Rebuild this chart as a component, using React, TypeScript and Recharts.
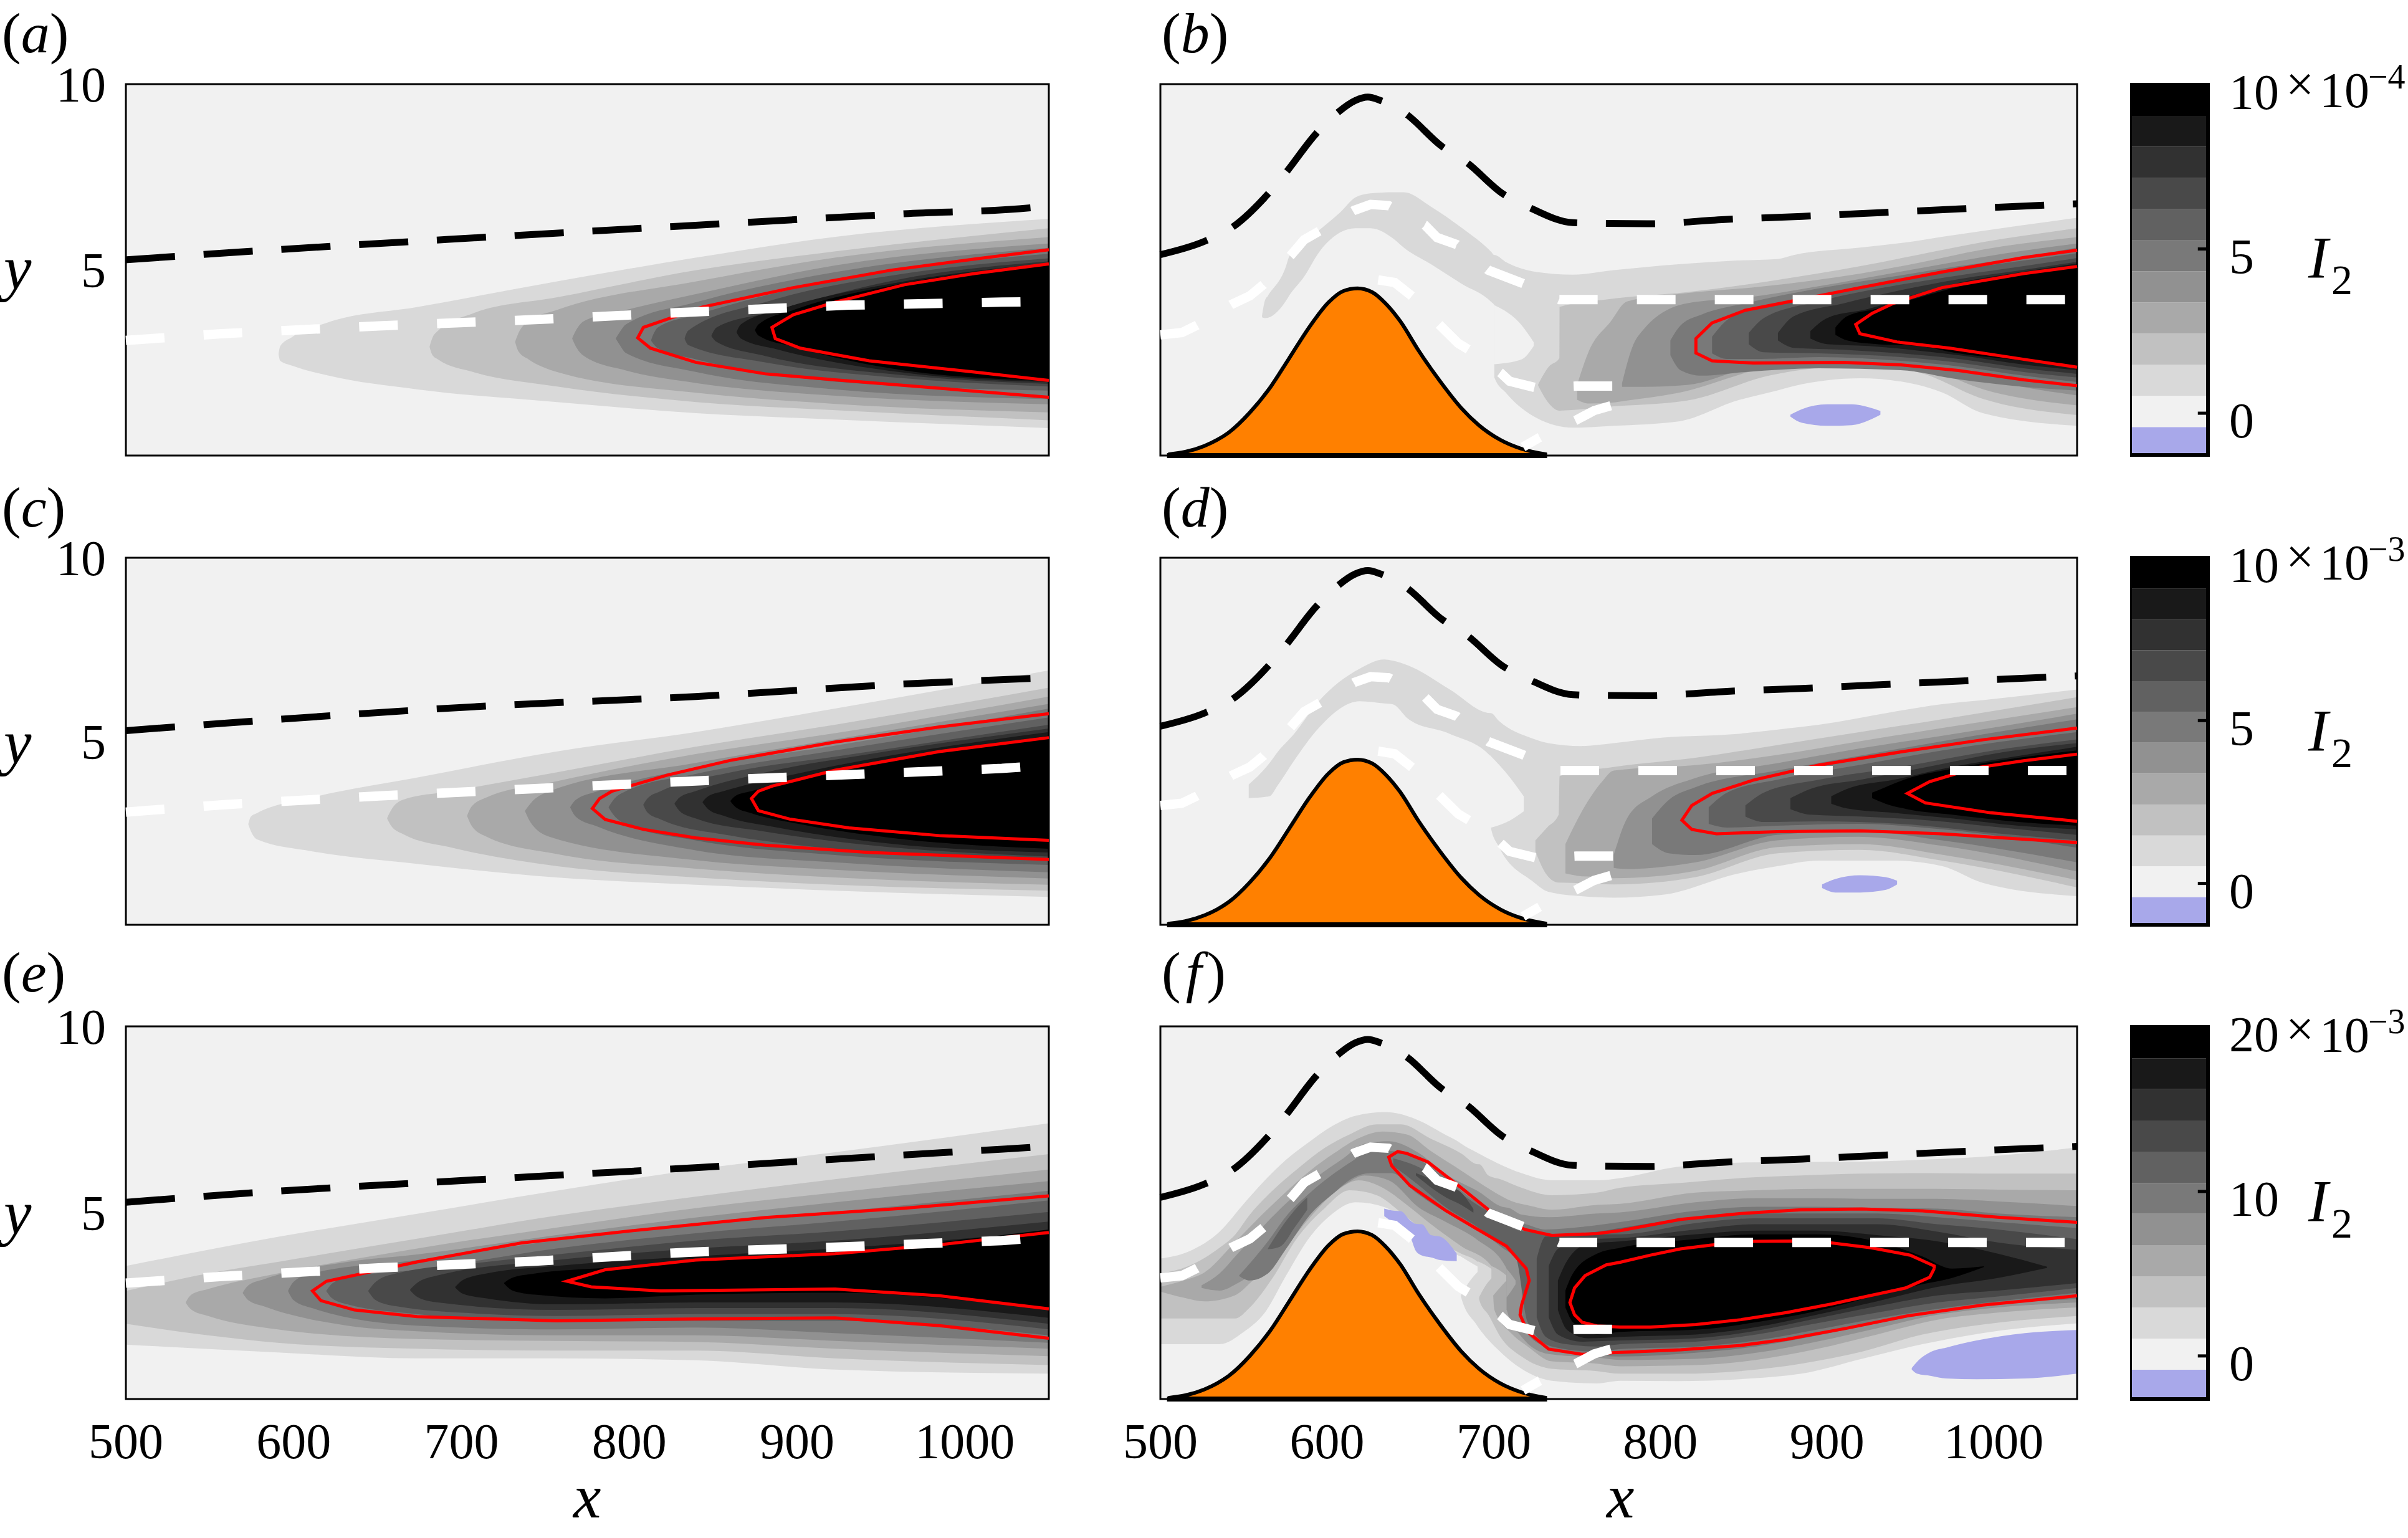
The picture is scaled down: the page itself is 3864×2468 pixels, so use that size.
import React from 'react';
import { ComposedChart, Area, Line, XAxis, YAxis, ReferenceArea, ReferenceLine } from 'recharts';

type Row = number[];
type Band = [number, Row[]];

const serif = '"Liberation Serif", "Times New Roman", serif';
const grays = ['#f1f1f1', '#d9d9d9', '#c1c1c1', '#a9a9a9', '#919191', '#797979', '#616161', '#494949', '#313131', '#191919', '#000000'];
const lavender = '#a8a8ea';
const BLUE = 11;
const xTicks = [500, 600, 700, 800, 900, 1000];
const yTicks = [5, 10];

const plotFill: Row[] = [[500, 0, 10], [1050, 0, 10]];

// wall bump, same in the three right hand panels
const bump: Row[] = [[504.7, 0.03], [515, 0.1], [526.5, 0.26], [534, 0.42], [541, 0.62], [553.7, 1.16], [566.3, 1.86], [577, 2.6], [590, 3.5], [600.8, 4.12], [609.8, 4.43], [618.3, 4.5], [627, 4.4], [635, 4.1], [644, 3.61], [655, 2.82], [667.8, 2], [680.5, 1.28], [691, 0.82], [704, 0.42], [716.7, 0.18], [731.8, 0.03]];
const bumpBase: Row[] = [[504, 0], [732, 0]];

const blackFlat: Row[] = [[500, 5.27], [561.4, 5.46], [715, 5.88], [839.5, 6.2], [964, 6.51], [1039, 6.67], [1050, 6.72]];
const blackC: Row[] = [[500, 5.29], [561.4, 5.5], [715, 5.96], [839.5, 6.22], [964, 6.56], [1039, 6.71], [1050, 6.73]];
const blackE: Row[] = [[500, 5.28], [561.4, 5.49], [715, 5.9], [839.5, 6.21], [964, 6.55], [1050, 6.78]];
const blackHump: Row[] = [[500, 5.41], [526, 5.76], [543, 6.14], [564.5, 7.04], [575, 7.6], [593.5, 8.67], [606, 9.22], [617, 9.56], [624.5, 9.65], [632, 9.56], [646.6, 9.22], [669, 8.32], [683.5, 7.9], [705.7, 7.04], [720.4, 6.7], [747.5, 6.27], [764.7, 6.25], [792, 6.24], [840, 6.36], [885, 6.44], [932, 6.54], [979, 6.64], [1050, 6.78]];

const whiteA: Row[] = [[500, 3.1], [557, 3.28], [650.7, 3.49], [744, 3.66], [835, 3.86], [931, 4.05], [1022, 4.13], [1050, 4.15]];
const whiteC: Row[] = [[500, 3.07], [557.3, 3.27], [650.7, 3.51], [744, 3.71], [835.4, 3.91], [930.9, 4.09], [1022, 4.26], [1050, 4.35]];
const whiteE: Row[] = [[500, 3.11], [557.3, 3.29], [650.7, 3.52], [744, 3.7], [835.4, 3.94], [930.9, 4.09], [1022, 4.25], [1050, 4.35]];
const whiteUpper: Row[] = [[500, 3.25], [512.9, 3.31], [522, 3.51], [542.8, 4.07], [553.7, 4.3], [561.8, 4.6], [578.1, 5.38], [586.3, 5.81], [595.3, 6.04], [616.2, 6.6], [626.1, 6.76], [637, 6.73], [658.8, 6.2], [666, 5.87], [677.8, 5.68], [696.8, 4.99], [717.6, 4.63], [739.4, 4.2], [1050, 4.2]];
const whiteLower: Row[] = [[630.7, 4.73], [640.6, 4.66], [651.5, 4.27], [667, 3.54], [678.7, 3.02], [685, 2.85], [704, 2.23], [709.5, 2], [725.8, 1.82], [749.4, 1.87], [772.4, 1.87]];
const whiteFoot: Row[] = [[770.2, 1.34], [760.2, 1.21], [749.3, 0.95], [727.6, 0.49], [717.6, 0.23]];

const redA: Row[][] = [
  [[1050, 5.54], [1005.6, 5.29], [955.8, 4.99], [897.7, 4.52], [843.7, 4], [808.4, 3.45], [805, 3.17], [812.6, 2.89], [839.5, 2.51], [881, 2.2], [922.6, 2.04], [1050, 1.57]],
  [[1050, 5.16], [1005.6, 4.9], [964, 4.6], [922.6, 4.13], [897.7, 3.79], [885, 3.45], [887, 3.15], [902, 2.89], [943, 2.55], [1005.6, 2.25], [1050, 2.02]],
];
const redB: Row[][] = [
  [[1050, 5.53], [1018, 5.33], [968.9, 4.94], [919.7, 4.52], [880.3, 4.17], [850.8, 3.91], [831, 3.57], [821.3, 3.15], [821.3, 2.76], [831, 2.55], [855.7, 2.49], [909.8, 2.51], [944.3, 2.44], [978.7, 2.29], [1018, 2.04], [1050, 1.88]],
  [[1050, 5.09], [1018, 4.9], [968.9, 4.52], [939.4, 4.09], [927.1, 3.83], [917.2, 3.53], [919.7, 3.28], [941.8, 3.06], [973.8, 2.89], [1018, 2.59], [1050, 2.38]],
];
const redC: Row[][] = [
  [[1050, 5.75], [984.8, 5.39], [922.6, 4.98], [860.3, 4.48], [822.9, 4.08], [789.7, 3.64], [782.3, 3.44], [778, 3.17], [785.6, 2.87], [808.4, 2.6], [839.5, 2.37], [881, 2.17], [943.3, 1.97], [1050, 1.78]],
  [[1050, 5.1], [984.8, 4.72], [922.6, 4.21], [885.2, 3.78], [876.9, 3.64], [872.8, 3.44], [876.9, 3.11], [895.6, 2.88], [930.9, 2.64], [984.8, 2.43], [1050, 2.3]],
];
const redD: Row[][] = [
  [[1050, 5.36], [993.5, 5.04], [944.3, 4.71], [895, 4.35], [855.7, 3.94], [831.1, 3.58], [818.8, 3.25], [812.9, 2.85], [818.8, 2.6], [833.6, 2.48], [870.5, 2.54], [919.7, 2.56], [968.9, 2.48], [1008.2, 2.36], [1050, 2.24]],
  [[1050, 4.65], [1018, 4.47], [988.6, 4.27], [961.5, 3.9], [948.2, 3.58], [959, 3.32], [998.4, 3.05], [1050, 2.82]],
];
const redE: Row[][] = [
  [[1050, 5.45], [964, 5.12], [881, 4.87], [798, 4.5], [735.8, 4.19], [673.5, 3.68], [619.5, 3.16], [611.2, 2.9], [616.2, 2.64], [636.2, 2.39], [673.5, 2.21], [756.5, 2.1], [839.5, 2.15], [922.6, 2.18], [984.8, 1.97], [1050, 1.63]],
  [[1050, 4.47], [984.8, 4.14], [922.6, 3.9], [839.5, 3.73], [785.6, 3.47], [762.8, 3.16], [777.3, 3.01], [818.8, 2.9], [922.6, 2.95], [984.8, 2.77], [1050, 2.42]],
];
const redF: Row[][] = [
  [[1050, 4.74], [1002.4, 4.88], [957.1, 5.05], [920.9, 5.1], [884.6, 5.08], [848.4, 4.98], [812.1, 4.82], [775.9, 4.52], [762, 4.44], [734.9, 4.39], [718.6, 4.55], [696.8, 5.08], [680.5, 5.67], [660.6, 6.36], [647.9, 6.59], [642.4, 6.64], [637, 6.49], [638.8, 6.26], [649.7, 5.73], [671.4, 5.05], [687.8, 4.62], [707.7, 4.1], [719.5, 3.5], [721.3, 3.18], [716.7, 2.52], [715.8, 2.26], [720.4, 1.8], [733, 1.34], [753, 1.2], [771, 1.24], [812.1, 1.32], [848.4, 1.44], [875.6, 1.6], [911.8, 1.9], [948, 2.23], [993.3, 2.52], [1050, 2.77]],
  [[964.3, 3.5], [961.6, 3.27], [947.1, 2.98], [926.3, 2.78], [902.7, 2.55], [875.6, 2.32], [848.4, 2.13], [821.2, 2], [794, 1.93], [775.9, 1.93], [762, 1.96], [753, 2.06], [748.5, 2.26], [745.7, 2.59], [748.5, 2.98], [754.8, 3.31], [767.5, 3.6], [775.9, 3.67], [794, 3.86], [812.1, 4.03], [830.3, 4.13], [855.6, 4.23], [879.2, 4.24], [902.7, 4.19], [926.3, 4.06], [949.9, 3.86], [964.3, 3.57], [964.3, 3.5]],
];

const bandsA: Band[] = [
  [1, [[591, 2.72, 2.74], [592, 2.55, 2.95], [599, 2.42, 3.19], [620, 2.16, 3.58], [674, 1.78, 4], [757, 1.44, 4.69], [840, 1.14, 5.33], [923, 0.97, 5.89], [1050, 0.74, 6.37]]],
  [2, [[681, 2.92, 2.94], [682.5, 2.72, 3.15], [686, 2.59, 3.36], [707, 2.25, 3.83], [757, 1.86, 4.26], [840, 1.44, 4.99], [923, 1.22, 5.5], [1050, 0.95, 6.12]]],
  [3, [[732, 3.05, 3.07], [734, 2.8, 3.3], [740, 2.59, 3.62], [757, 2.25, 3.92], [840, 1.69, 4.69], [923, 1.39, 5.33], [1050, 1.16, 5.88]]],
  [4, [[766, 3.14, 3.16], [768, 2.95, 3.35], [773, 2.68, 3.62], [798, 2.29, 3.92], [840, 1.95, 4.35], [923, 1.61, 5.12], [1050, 1.38, 5.71]]],
  [5, [[792, 3.14, 3.16], [794, 3, 3.3], [798, 2.76, 3.53], [840, 2.25, 4.13], [923, 1.78, 4.94], [1050, 1.52, 5.59]]],
  [6, [[813, 3.09, 3.11], [814.5, 3, 3.28], [817, 2.89, 3.45], [840, 2.59, 3.79], [923, 1.99, 4.73], [1050, 1.75, 5.43]]],
  [7, [[833, 3.14, 3.16], [835, 2.98, 3.36], [881, 2.51, 4.13], [964, 2.08, 4.9], [1050, 1.86, 5.31]]],
  [8, [[849, 3.21, 3.24], [852, 3.06, 3.45], [881, 2.68, 3.83], [964, 2.16, 4.77], [1050, 1.93, 5.23]]],
  [9, [[864, 3.31, 3.34], [866.5, 3.15, 3.53], [889, 2.85, 3.92], [964, 2.23, 4.69], [1050, 1.98, 5.18]]],
  [10, [[875, 3.36, 3.39], [877, 3.23, 3.53], [898, 2.93, 3.92], [964, 2.29, 4.64], [1050, 2.01, 5.13]]],
];

const bandsC: Band[] = [
  [1, [[573, 2.73, 2.75], [574.5, 2.55, 2.95], [578, 2.33, 3.04], [611.2, 2, 3.47], [673.5, 1.66, 4.01], [756.5, 1.29, 4.72], [839.5, 1.09, 5.25], [922.6, 0.93, 5.89], [1050, 0.76, 6.93]]],
  [2, [[655.7, 2.89, 2.91], [658, 2.7, 3.12], [665.2, 2.47, 3.41], [694.3, 2.1, 3.64], [756.5, 1.6, 4.15], [839.5, 1.29, 4.85], [922.6, 1.09, 5.45], [1050, 0.93, 6.46]]],
  [3, [[703.4, 2.96, 2.98], [706, 2.7, 3.22], [715, 2.4, 3.47], [756.5, 1.93, 3.91], [839.5, 1.53, 4.65], [922.6, 1.29, 5.22], [1050, 1.09, 6.22]]],
  [4, [[737.9, 3.09, 3.11], [741, 2.8, 3.3], [752.4, 2.4, 3.64], [839.5, 1.76, 4.41], [922.6, 1.5, 5.05], [1050, 1.26, 6.02]]],
  [5, [[764.8, 3.19, 3.21], [768, 2.95, 3.4], [781.4, 2.67, 3.64], [839.5, 2.03, 4.28], [922.6, 1.7, 4.88], [1050, 1.43, 5.89]]],
  [6, [[787.7, 3.19, 3.21], [790.5, 3, 3.4], [798, 2.74, 3.64], [839.5, 2.3, 4.11], [922.6, 1.9, 4.75], [1050, 1.63, 5.65]]],
  [7, [[808.4, 3.26, 3.28], [811, 3.05, 3.45], [818.8, 2.87, 3.64], [860.3, 2.43, 4.15], [922.6, 2.07, 4.58], [1050, 1.76, 5.45]]],
  [8, [[827, 3.29, 3.31], [830, 3.1, 3.47], [839.5, 2.9, 3.64], [881, 2.54, 4.15], [943.3, 2.17, 4.65], [1050, 1.86, 5.35]]],
  [9, [[843.7, 3.33, 3.35], [847, 3.15, 3.5], [856.2, 2.97, 3.64], [889.4, 2.64, 4.01], [943.3, 2.27, 4.51], [1050, 1.97, 5.25]]],
  [10, [[860.3, 3.36, 3.38], [863.5, 3.2, 3.52], [872.8, 3.04, 3.64], [901.8, 2.74, 4.01], [955.8, 2.37, 4.48], [1050, 2.07, 5.15]]],
];

const bandsE: Band[] = [
  [1, [[500, 1.46, 3.57], [590.5, 1.25, 4.35], [673.5, 1.09, 4.97], [756.5, 1.09, 5.59], [839.5, 1.04, 6.16], [922.6, 0.79, 6.62], [1050, 0.68, 7.4]]],
  [2, [[500, 2.02, 2.9], [549, 1.71, 3.37], [590.5, 1.51, 3.68], [673.5, 1.35, 4.3], [756.5, 1.3, 4.92], [839.5, 1.3, 5.43], [922.6, 1.09, 5.9], [1050, 0.91, 6.57]]],
  [3, [[535.7, 2.58, 2.6], [539, 2.4, 2.8], [549, 2.23, 2.95], [590.5, 1.87, 3.37], [673.5, 1.61, 4.04], [756.5, 1.56, 4.6], [839.5, 1.53, 5.12], [922.6, 1.35, 5.54], [1050, 1.15, 6.16]]],
  [4, [[569.7, 2.84, 2.86], [573, 2.65, 3.05], [582, 2.49, 3.21], [632, 1.97, 3.68], [673.5, 1.82, 3.88], [756.5, 1.71, 4.4], [839.5, 1.71, 4.87], [922.6, 1.56, 5.28], [1050, 1.35, 5.85]]],
  [5, [[596.7, 2.89, 2.91], [600, 2.65, 3.15], [611, 2.44, 3.37], [673.5, 1.97, 3.73], [756.5, 1.87, 4.25], [839.5, 1.92, 4.66], [922.6, 1.77, 5.02], [1050, 1.51, 5.59]]],
  [6, [[619.5, 2.89, 2.91], [623, 2.7, 3.1], [632, 2.54, 3.26], [673.5, 2.28, 3.47], [756.5, 2.08, 4.04], [839.5, 2.1, 4.45], [922.6, 2.1, 4.76], [1050, 1.71, 5.33]]],
  [7, [[644.5, 2.89, 2.91], [649, 2.65, 3.15], [661, 2.49, 3.37], [715, 2.28, 3.68], [756.5, 2.23, 3.88], [839.5, 2.28, 4.25], [922.6, 2.28, 4.5], [1050, 1.87, 5.02]]],
  [8, [[669.4, 2.92, 2.94], [674, 2.73, 3.13], [686, 2.59, 3.32], [756.5, 2.39, 3.73], [839.5, 2.44, 4.04], [922.6, 2.44, 4.25], [1050, 2.02, 4.76]]],
  [9, [[696.3, 2.99, 3.01], [701, 2.82, 3.2], [715, 2.7, 3.37], [756.5, 2.54, 3.57], [839.5, 2.59, 3.83], [922.6, 2.59, 4.04], [1050, 2.18, 4.5]]],
  [10, [[725.4, 3.1, 3.12], [730, 2.92, 3.25], [744, 2.8, 3.37], [785.6, 2.7, 3.52], [839.5, 2.8, 3.73], [922.6, 2.85, 3.94], [1050, 2.39, 4.55]]],
];

const bandsB: Band[] = [
  [1, [[561, 3.72, 3.77], [562.7, 3.7, 4.17], [564.5, 3.71, 4.3], [575.4, 4.17, 5.1], [577.2, 4.3, 5.35], [586.3, 4.82, 5.75], [595.3, 5.48, 6.07], [608, 6.01, 6.55], [617, 6.12, 6.95], [626, 6.12, 7.06], [640.6, 5.81, 7.09], [646, 5.6, 7.09], [662.4, 5.15, 6.7], [680.5, 4.63, 6.14], [698.6, 4.13, 5.48], [700.3, 4.05, 5.4], [700.4, 2.1, 5.4], [707.7, 1.67, 5.2], [725.8, 1.01, 4.94], [747.5, 0.75, 4.87], [772, 0.8, 4.99], [811, 0.92, 5.15], [846, 1.48, 5.25], [870, 1.75, 5.29], [880, 1.87, 5.4], [920, 2.08, 5.6], [954, 1.91, 5.78], [969, 1.7, 5.89], [993.5, 1.14, 6.05], [1050, 0.8, 6.4]]],
  [0, [[700.2, 2.46, 4.05], [716.7, 2.59, 3.51], [724, 2.95, 3.05]]],
  [2, [[726.7, 1.88, 1.92], [733, 1.41, 2.39], [739.4, 1.21, 2.62], [739.5, 1.21, 4], [767, 1.31, 4.2], [816, 1.48, 4.4], [866, 2.16, 4.7], [920, 2.42, 5.1], [954, 2.25, 5.4], [994, 1.52, 5.75], [1050, 1.09, 6.12]]],
  [3, [[750, 1.5, 1.9], [757, 1.4, 2.8], [770, 1.42, 3.6], [780, 1.48, 4.15], [811, 1.69, 4.35], [861, 2.34, 4.55], [920, 2.63, 4.9], [954, 2.46, 5.18], [994, 1.78, 5.55], [1050, 1.35, 5.88]]],
  [4, [[777, 1.85, 1.95], [783, 1.85, 2.9], [790, 1.85, 3.4], [816, 1.9, 4.1], [851, 2.34, 4.25], [895, 2.73, 4.56], [944, 2.69, 4.95], [969, 2.45, 5.15], [994, 2.09, 5.35], [1050, 1.62, 5.71]]],
  [5, [[806, 2.7, 3.1], [812, 2.3, 3.5], [825, 2.15, 3.8], [851, 2.25, 4.1], [895, 2.35, 4.5], [944, 2.3, 4.85], [979, 2.05, 5.1], [1018, 1.85, 5.35], [1050, 1.75, 5.6]]],
  [6, [[831, 2.75, 3.2], [840, 2.6, 3.65], [860, 2.6, 4], [895, 2.65, 4.3], [944, 2.55, 4.75], [979, 2.4, 5], [1018, 2.15, 5.25], [1050, 1.98, 5.45]]],
  [7, [[853, 3, 3.3], [862, 2.78, 3.7], [895, 2.75, 4.15], [944, 2.65, 4.6], [979, 2.5, 4.85], [1018, 2.25, 5.1], [1050, 2.1, 5.32]]],
  [8, [[870.5, 3.1, 3.3], [880, 2.9, 3.75], [910, 2.85, 4.1], [944, 2.75, 4.45], [979, 2.6, 4.75], [1018, 2.35, 5], [1050, 2.2, 5.22]]],
  [9, [[890, 3.15, 3.35], [900, 3, 3.7], [925, 2.95, 3.95], [950, 2.85, 4.3], [979, 2.7, 4.65], [1018, 2.45, 4.95], [1050, 2.3, 5.17]]],
  [10, [[905, 3.25, 3.45], [912, 3.1, 3.75], [930, 3, 3.95], [955, 2.95, 4.25], [979, 2.75, 4.55], [1018, 2.55, 4.9], [1050, 2.35, 5.12]]],
  [BLUE, [[878, 1.05, 1.1], [885, 0.88, 1.25], [900, 0.8, 1.38], [915, 0.82, 1.38], [925, 0.95, 1.3], [932, 1.1, 1.2]]],
];

const bandsD: Band[] = [
  [1, [[553, 3.45, 3.82], [565.4, 3.5, 4.4], [570.4, 3.8, 4.71], [580.2, 4.47, 5.2], [595, 5.36, 6.09], [619.6, 6.09, 6.98], [634.3, 6.03, 7.23], [639.2, 6.01, 7.2], [649, 5.6, 7.06], [673.7, 5.2, 6.41], [698, 4.6, 5.77], [698.3, 2.64, 5.77], [703.2, 2.12, 5.55], [722.9, 1.2, 5.08], [732.7, 0.9, 4.95], [752.4, 0.78, 4.87], [772, 0.74, 4.95], [801.6, 0.82, 5.1], [845.9, 1.39, 5.2], [870.5, 1.6, 5.32], [895, 1.75, 5.45], [939.3, 1.75, 5.8], [968.9, 1.6, 6.01], [993.5, 1.14, 6.12], [1050, 0.78, 6.41]]],
  [0, [[697.8, 2.64, 4.62], [710, 2.85, 4], [718, 3.09, 3.5]]],
  [2, [[725, 2, 2.3], [732, 1.35, 2.65], [739, 1.15, 3], [739.5, 1.15, 4.05], [772, 1.1, 4.3], [821, 1.3, 4.55], [870.5, 1.95, 4.9], [919.7, 2.04, 5.25], [968.9, 1.75, 5.6], [1050, 1.02, 6.2]]],
  [3, [[743, 1.4, 2.2], [753, 1.32, 3.1], [765, 1.3, 3.9], [772, 1.27, 4.2], [821, 1.47, 4.35], [870.5, 2.12, 4.63], [919.7, 2.2, 5], [968.9, 1.91, 5.36], [1050, 1.22, 5.93]]],
  [4, [[772, 1.55, 1.9], [780, 1.52, 2.9], [795, 1.55, 3.5], [821, 1.7, 4], [870, 2.3, 4.4], [919, 2.4, 4.8], [969, 2.15, 5.15], [1050, 1.45, 5.75]]],
  [5, [[795, 2.2, 2.9], [805, 1.95, 3.4], [821, 1.9, 3.75], [870, 2.45, 4.2], [919, 2.55, 4.6], [969, 2.3, 5], [1050, 1.7, 5.6]]],
  [6, [[829, 2.75, 3.2], [840, 2.65, 3.6], [870, 2.7, 3.95], [919, 2.75, 4.35], [969, 2.6, 4.75], [1050, 2.1, 5.25]]],
  [7, [[851, 2.95, 3.25], [862, 2.8, 3.6], [895, 2.82, 3.95], [944, 2.75, 4.3], [1000, 2.5, 4.75], [1050, 2.3, 5.05]]],
  [8, [[878, 3.15, 3.45], [890, 3, 3.7], [920, 2.95, 3.95], [960, 2.85, 4.3], [1005, 2.65, 4.7], [1050, 2.45, 4.95]]],
  [9, [[902.5, 3.3, 3.5], [912, 3.17, 3.7], [940, 3.05, 3.95], [975, 2.9, 4.3], [1015, 2.7, 4.6], [1050, 2.6, 4.85]]],
  [10, [[927, 3.45, 3.6], [935, 3.3, 3.75], [948, 3.15, 3.98], [975, 3, 4.25], [1015, 2.8, 4.55], [1050, 2.7, 4.75]]],
  [BLUE, [[897, 1, 1.1], [905, 0.88, 1.25], [920, 0.88, 1.35], [935, 0.95, 1.3], [942, 1.1, 1.2]]],
];

const bandsF: Band[] = [
  [1, [[500, 1.47, 3.77], [517, 1.47, 3.96], [535.5, 1.47, 4.49], [550, 1.8, 5.24], [562.7, 2.32, 5.87], [575.4, 3.31, 6.42], [589.9, 4.36, 6.92], [602.6, 4.95, 7.31], [617.1, 5.28, 7.6], [635.2, 5.14, 7.7], [653.3, 4.49, 7.51], [671.4, 3.96, 7.08], [679.6, 3.83, 6.88], [680.5, 2.72, 6.85], [689.6, 2, 6.62], [702.2, 1.34, 6.33], [716.7, 0.81, 6.06], [734.9, 0.49, 5.87], [762, 0.42, 5.87], [775.9, 0.49, 5.93], [810, 0.48, 6.23], [854, 0.55, 6.35], [884.6, 0.68, 6.36], [920.9, 1.08, 6.37], [957.1, 1.47, 6.42], [993.3, 1.77, 6.5], [1050, 2.03, 6.75]]],
  [0, [[679.4, 2.72, 3.85], [685.9, 3.18, 3.67], [691, 3.44, 3.54]]],
  [2, [[500, 2.16, 3.37], [517, 2.16, 3.57], [535.5, 2.16, 4.06], [544.6, 2.16, 4.4], [553.7, 2.46, 4.95], [566.3, 3.18, 5.55], [582.7, 4.36, 6.19], [599, 5.14, 6.75], [613.5, 5.6, 7.1], [629.8, 5.47, 7.37], [644.3, 5.01, 7.37], [662.4, 4.36, 6.98], [680.5, 3.9, 6.59], [690.5, 3.67, 6.3], [691.4, 2.65, 6.3], [696.8, 2.26, 6], [704, 1.67, 5.9], [716.7, 1.14, 5.67], [734.9, 0.81, 5.47], [762, 0.75, 5.54], [775.9, 0.68, 5.67], [812, 0.68, 5.8], [848, 0.75, 5.93], [884.6, 0.95, 6], [920.9, 1.27, 6.05], [957.1, 1.73, 6.06], [993.3, 2, 6.05], [1050, 2.23, 6.05]]],
  [1, [[690.3, 2.65, 3.7], [696, 3.1, 3.57], [700, 3.3, 3.45]]],
  [3, [[500, 2.88, 3.01], [513.8, 2.72, 3.18], [526.5, 2.62, 3.4], [544.6, 2.78, 4.2], [555.5, 3.18, 4.7], [571.8, 3.9, 5.41], [589.9, 4.88, 6.13], [604.4, 5.54, 6.6], [618.9, 5.87, 7], [633.4, 5.67, 7.18], [647.9, 5.21, 7.1], [662.4, 4.69, 6.65], [680.5, 4.1, 6.13], [698.6, 3.57, 5.6], [700.4, 2.39, 5.55], [711.3, 1.73, 5.3], [720.4, 1.41, 5.2], [734.9, 1.01, 5.08], [762, 0.95, 5.21], [775.9, 0.88, 5.24], [821, 0.91, 5.54], [857.4, 1.05, 5.6], [893.7, 1.34, 5.64], [929.9, 1.73, 5.64], [966.2, 2.13, 5.64], [1002.4, 2.32, 5.62], [1050, 2.46, 5.6]]],
  [2, [[698.6, 2.72, 3.57], [704, 3, 3.44], [707.7, 3.18, 3.31]]],
  [4, [[524.7, 2.98, 3.05], [535.5, 2.91, 3.37], [546.4, 3.11, 3.9], [560.9, 3.57, 4.6], [575.4, 4.36, 5.25], [593.5, 5.21, 5.95], [609.8, 5.73, 6.46], [622.5, 6, 6.85], [637, 5.87, 6.92], [655.1, 5.14, 6.6], [671.4, 4.75, 6.03], [689.6, 4.29, 5.6], [707.7, 3.5, 5.14], [707.8, 2.39, 5.14], [716.7, 1.67, 4.95], [733, 1.21, 4.88], [762, 1.11, 4.98], [775.9, 1.05, 5.01], [821, 1.08, 5.28], [857.4, 1.24, 5.39], [893.7, 1.54, 5.39], [929.9, 1.9, 5.37], [966.2, 2.26, 5.37], [1002.4, 2.46, 5.3], [1050, 2.59, 5.18]]],
  [3, [[707.6, 2.72, 3.5], [711.3, 2.95, 3.3], [713.1, 3.08, 3.18]]],
  [5, [[547.3, 3.3, 3.32], [553.7, 3.18, 3.64], [564.5, 3.37, 4.23], [575.4, 4.03, 4.9], [589.9, 4.95, 5.54], [604.4, 5.54, 6.06], [615.3, 5.93, 6.39], [626.1, 6.06, 6.65], [638.8, 6.06, 6.65], [653.3, 5.54, 6.46], [671.4, 5.01, 5.93], [687.8, 4.62, 5.35], [704, 4.1, 5], [716.7, 3.57, 4.72], [716.8, 2.52, 4.72], [718.6, 1.86, 4.7], [731, 1.41, 4.55], [753, 1.21, 4.62], [775.9, 1.14, 4.75], [821, 1.24, 5.05], [857.4, 1.41, 5.16], [893.7, 1.7, 5.16], [929.9, 2.03, 5.13], [966.2, 2.32, 5.11], [1002.4, 2.55, 4.98], [1050, 2.68, 4.88]]],
  [4, [[716.6, 2.52, 3.57], [720.4, 3.1, 3.3]]],
  [6, [[564.5, 4.02, 4.04], [571.8, 4.09, 4.55], [580.8, 4.62, 5.08], [588.1, 5.08, 5.41]]],
  [6, [[639.7, 6.26, 6.46], [653.3, 5.8, 6.26], [671.4, 5.14, 5.8], [687.8, 4.69, 5.28], [702.2, 4.23, 4.88], [713.1, 3.83, 4.55], [720.4, 2.06, 4.49], [734.9, 1.41, 4.42], [762, 1.27, 4.49], [775.9, 1.34, 4.59], [821, 1.41, 4.88], [857.4, 1.57, 4.98], [893.7, 1.86, 4.98], [929.9, 2.16, 4.98], [966.2, 2.42, 4.88], [1002.4, 2.62, 4.75], [1050, 2.85, 4.59]]],
  [7, [[653.3, 6, 6.06], [671.4, 5.41, 5.73], [680.5, 5.21, 5.54], [687.8, 5, 5.1]]],
  [7, [[725.8, 2.19, 3.77], [731.2, 1.67, 4.36], [743.9, 1.47, 4.36], [762, 1.41, 4.42], [775.9, 1.47, 4.42], [821, 1.54, 4.72], [857.4, 1.73, 4.85], [893.7, 2.03, 4.85], [929.9, 2.32, 4.85], [966.2, 2.59, 4.69], [1002.4, 2.75, 4.55], [1050, 2.98, 4.29]]],
  [8, [[733, 2.19, 3.57], [738.5, 1.73, 4.03], [753, 1.54, 4.29], [775.9, 1.57, 4.32], [821, 1.63, 4.55], [857.4, 1.83, 4.69], [893.7, 2.16, 4.69], [929.9, 2.49, 4.69], [966.2, 2.78, 4.49], [1002.4, 2.91, 4.2], [1050, 3.11, 4]]],
  [9, [[738.5, 2.39, 3.18], [743.9, 1.86, 3.7], [756.6, 1.63, 4.16], [775.9, 1.67, 4.23], [821, 1.73, 4.42], [857.4, 1.93, 4.52], [893.7, 2.26, 4.52], [929.9, 2.62, 4.4], [966.2, 3.01, 4.23], [1002.4, 3.25, 3.9], [1032, 3.52, 3.55]]],
  [10, [[743, 2.46, 2.91], [747.5, 2.06, 3.37], [762, 1.73, 3.9], [775.9, 1.8, 4.06], [821, 1.86, 4.29], [857.4, 2.06, 4.42], [893.7, 2.36, 4.42], [929.9, 2.78, 4.23], [957, 3.08, 3.83], [975, 3.25, 3.5], [994, 3.54, 3.56]]],
  [BLUE, [[634.3, 4.91, 5.11], [640.6, 4.68, 5.05], [644.3, 4.5, 5.04], [649.7, 4.36, 4.8], [653.3, 3.97, 4.7], [657, 3.85, 4.69], [662.4, 3.8, 4.4], [667.8, 3.73, 4.36], [677.8, 3.7, 3.9]]],
  [BLUE, [[950.8, 0.79, 0.83], [954, 0.68, 1], [962.5, 0.62, 1.27], [971.6, 0.55, 1.38], [989.7, 0.53, 1.57], [1018.7, 0.55, 1.77], [1038.6, 0.62, 1.83], [1050, 0.68, 1.85]]],
];

const barEdges10 = [-1.27, -0.42, 0.53, 1.47, 2.42, 3.37, 4.32, 5.26, 6.21, 7.16, 8.11, 9.05, 10];
const barEdges20 = [-2.62, -0.84, 1.06, 2.94, 4.84, 6.74, 8.64, 10.52, 12.42, 14.32, 16.22, 18.1, 20];
const barColors = [lavender, ...grays];
const barTicks10 = [0, 5, 10];
const barTicks20 = [0, 10, 20];

const toBand = (rows: Row[]) => rows.map(([x, lo, hi]) => ({ x, r: [lo, hi] }));
const toLine = (rows: Row[]) => rows.map(([x, y]) => ({ x, y }));
const fillOf = (i: number) => (i === BLUE ? lavender : grays[i]);

interface PanelProps {
  left: number;
  top: number;
  width: number;
  height: number;
  bands: Band[];
  reds: Row[][];
  black: Row[];
  whites: Row[][];
  hasBump?: boolean;
  showY?: boolean;
  showX?: boolean;
}

const Panel = ({ left, top, width, height, bands, reds, black, whites, hasBump, showY, showX }: PanelProps) => {
  const axisFont = { fontSize: 80, fontFamily: serif, fill: '#000' };
  const pad = 60;
  const marginLeft = 200;
  const xAxisHeight = 130;
  return (
    <div style={{ position: 'absolute', left: left - marginLeft, top: top - pad }}>
      <ComposedChart
        width={marginLeft + width + pad}
        height={pad + height + (showX ? xAxisHeight : pad)}
        margin={{ top: pad, right: pad, bottom: showX ? 0 : pad, left: showY ? 0 : marginLeft }}
      >
        <XAxis
          dataKey="x"
          type="number"
          domain={[500, 1050]}
          ticks={xTicks}
          interval={0}
          hide={!showX}
          height={xAxisHeight}
          axisLine={false}
          tickLine={false}
          tickSize={0}
          tickMargin={38}
          tick={axisFont}
        />
        <YAxis
          type="number"
          domain={[0, 10]}
          ticks={yTicks}
          interval={0}
          hide={!showY}
          width={marginLeft}
          axisLine={false}
          tickLine={false}
          tickSize={0}
          tickMargin={32}
          tick={axisFont}
        />
        <Area data={toBand(plotFill)} dataKey="r" type="linear" fill={grays[0]} fillOpacity={1} stroke="none" isAnimationActive={false} dot={false} activeDot={false} />
        {bands.map(([level, rows], i) => (
          <Area key={i} data={toBand(rows)} dataKey="r" type="monotone" fill={fillOf(level)} fillOpacity={1} stroke="none" isAnimationActive={false} dot={false} activeDot={false} />
        ))}
        {reds.map((rows, i) => (
          <Line key={i} data={toLine(rows)} dataKey="y" type="linear" stroke="#ff0000" strokeWidth={5} dot={false} activeDot={false} isAnimationActive={false} />
        ))}
        {hasBump && (
          <Area data={toLine(bump)} dataKey="y" type="monotone" fill="#ff8000" fillOpacity={1} stroke="#000" strokeWidth={6} isAnimationActive={false} dot={false} activeDot={false} />
        )}
        {hasBump && (
          <Line data={toLine(bumpBase)} dataKey="y" stroke="#000" strokeWidth={8} dot={false} activeDot={false} isAnimationActive={false} />
        )}
        <Line data={toLine(black)} dataKey="y" type="monotone" stroke="#000" strokeWidth={11} strokeDasharray="79 46" dot={false} activeDot={false} isAnimationActive={false} />
        {whites.map((rows, i) => (
          <Line key={i} data={toLine(rows)} dataKey="y" type="linear" stroke="#fff" strokeWidth={15} strokeDasharray="62 63" dot={false} activeDot={false} isAnimationActive={false} />
        ))}
        <ReferenceArea x1={500} x2={1050} y1={0} y2={10} fill="none" stroke="#000" strokeWidth={3} ifOverflow="visible" />
      </ComposedChart>
    </div>
  );
};

const ColourBar = ({ top, height, edges, ticks }: { top: number; height: number; edges: number[]; ticks: number[] }) => {
  const pad = 60;
  const barWidth = 125;
  const axisRoom = 300;
  const hi = edges[edges.length - 1];
  return (
    <div style={{ position: 'absolute', left: 3418, top: top - pad }}>
      <ComposedChart width={barWidth + axisRoom} height={height + 2 * pad} margin={{ top: pad, right: 0, bottom: pad, left: 0 }}>
        <XAxis dataKey="x" type="number" domain={[0, 1]} hide />
        <YAxis
          orientation="right"
          type="number"
          domain={[edges[0], hi]}
          ticks={ticks}
          interval={0}
          width={axisRoom}
          axisLine={false}
          tickLine={false}
          tickSize={0}
          tickMargin={34}
          tick={{ fontSize: 80, fontFamily: serif, fill: '#000', dy: 11 }}
        />
        {barColors.map((c, i) => (
          <Area key={i} data={toBand([[0, edges[i], edges[i + 1]], [1, edges[i], edges[i + 1]]])} dataKey="r" type="linear" fill={c} fillOpacity={1} stroke="none" isAnimationActive={false} dot={false} activeDot={false} />
        ))}
        {ticks.slice(0, 2).map((t) => (
          <ReferenceLine key={t} segment={[{ x: 0.87, y: t }, { x: 1, y: t }]} stroke="#000" strokeWidth={5} />
        ))}
        <ReferenceArea x1={0} x2={1} y1={edges[0]} y2={hi} fill="none" stroke="#000" strokeWidth={6} ifOverflow="visible" />
      </ComposedChart>
    </div>
  );
};

const T = ({ x, y, size = 80, italic, children }: { x: number; y: number; size?: number; italic?: boolean; children: React.ReactNode }) => (
  <text x={x} y={y} fontSize={size} fontFamily={serif} fontStyle={italic ? 'italic' : 'normal'} fill="#000">
    {children}
  </text>
);

const PanelTag = ({ x, y, tag, gap = 0 }: { x: number; y: number; tag: string; gap?: number }) => (
  <text x={x} y={y} fontSize={92} fontFamily={serif} fill="#000">
    (<tspan fontStyle="italic" dx={gap}>{tag}</tspan><tspan dx={gap}>)</tspan>
  </text>
);

const BarCaption = ({ y, power }: { y: number; power: string }) => (
  <>
    <T x={3668} y={y - 10} size={80}>×</T>
    <T x={3722} y={y}>10</T>
    <T x={3800} y={y - 30} size={56}>{power}</T>
  </>
);

const IntensityLabel = ({ y }: { y: number }) => (
  <>
    <T x={3704} y={y} size={96} italic>I</T>
    <T x={3741} y={y + 26} size={68}>2</T>
  </>
);

export default function App() {
  const w = 3864;
  const h = 2468;
  return (
    <div style={{ position: 'absolute', left: 0, top: 0, width: w, height: h, background: '#fff', overflow: 'hidden' }}>
      <Panel left={202} top={135} width={1481} height={596} bands={bandsA} reds={redA} black={blackFlat} whites={[whiteA]} showY />
      <Panel left={1862} top={135} width={1471} height={596} bands={bandsB} reds={redB} black={blackHump} whites={[whiteUpper, whiteLower, whiteFoot]} hasBump />
      <Panel left={202} top={895} width={1481} height={589} bands={bandsC} reds={redC} black={blackC} whites={[whiteC]} showY />
      <Panel left={1862} top={895} width={1471} height={589} bands={bandsD} reds={redD} black={blackHump} whites={[whiteUpper, whiteLower, whiteFoot]} hasBump />
      <Panel left={202} top={1647} width={1481} height={598} bands={bandsE} reds={redE} black={blackE} whites={[whiteE]} showY showX />
      <Panel left={1862} top={1647} width={1471} height={598} bands={bandsF} reds={redF} black={blackHump} whites={[whiteUpper, whiteLower, whiteFoot]} hasBump showX />
      <ColourBar top={136} height={594} edges={barEdges10} ticks={barTicks10} />
      <ColourBar top={895} height={589} edges={barEdges10} ticks={barTicks10} />
      <ColourBar top={1648} height={597} edges={barEdges20} ticks={barTicks20} />
      <svg width={w} height={h} style={{ position: 'absolute', left: 0, top: 0, pointerEvents: 'none' }}>
        <PanelTag x={3} y={84} tag="a" />
        <PanelTag x={1864} y={84} tag="b" />
        <PanelTag x={3} y={845} tag="c" />
        <PanelTag x={1864} y={845} tag="d" />
        <PanelTag x={3} y={1591} tag="e" />
        <PanelTag x={1864} y={1591} tag="f" gap={8} />
        <T x={6} y={464} size={100} italic>y</T>
        <T x={6} y={1225} size={100} italic>y</T>
        <T x={6} y={1980} size={100} italic>y</T>
        <T x={920} y={2435} size={100} italic>x</T>
        <T x={2578} y={2435} size={100} italic>x</T>
        <BarCaption y={172} power="−4" />
        <BarCaption y={930} power="−3" />
        <BarCaption y={1688} power="−3" />
        <IntensityLabel y={446} />
        <IntensityLabel y={1205} />
        <IntensityLabel y={1960} />
      </svg>
    </div>
  );
}
